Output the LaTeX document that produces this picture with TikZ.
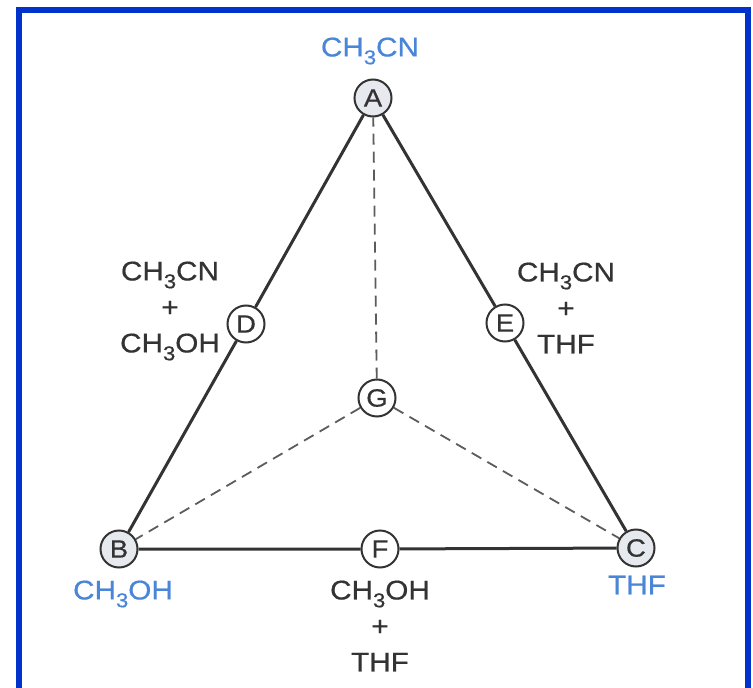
\documentclass[tikz,border=0pt]{standalone}
\usepackage{fontspec}
\usepackage{tikz}
\newfontfamily\labfont[FakeStretch=1.1,FakeBold=0.6]{Liberation Sans}
\newcommand{\low}[1]{\raisebox{-0.55ex}{\fontsize{20}{20}\selectfont #1}}
\definecolor{ink}{HTML}{333333}
\definecolor{tag}{HTML}{4A86D8}
\definecolor{frame}{HTML}{0033CC}
\definecolor{corner}{HTML}{E6E9EE}
\tikzset{edge/.style={draw=ink,line width=3pt},
  mix/.style={draw=ink!80,line width=1.8pt,dash pattern=on 11pt off 7pt},
  pt/.style={circle,draw=ink,line width=2pt,minimum size=37pt,inner sep=0pt,
    fill=white,font=\labfont\fontsize{25}{25}\selectfont,text=ink},
  pure/.style={pt,fill=corner},
  lab/.style={font=\labfont\fontsize{27}{36}\selectfont,text=ink,align=center},
  solvent/.style={font=\labfont\fontsize{27}{28}\selectfont,text=tag}}

\begin{document}
\begin{tikzpicture}[x=1pt,y=-1pt]
  \useasboundingbox (0,0) rectangle (753,688);
  \fill[white] (0,0) rectangle (753,688);
  \draw[frame,line width=6pt] (19,700)--(19,10)--(748,10)--(748,700);
  % corners and the mixtures between them
  \node[pure] (A) at (373,98) {A};
  \node[pure] (B) at (119,549) {B};
  \node[pure] (C) at (636,548) {C};
  \node[pt] (D) at (246,324) {D};
  \node[pt] (E) at (505,323) {E};
  \node[pt] (F) at (380,549) {F};
  \node[pt] (G) at (377,398) {G};
  \draw[edge] (A)--(D)--(B)--(F)--(C)--(E)--(A);
  \draw[mix] (G)--(A);
  \draw[mix] (G)--(B);
  \draw[mix] (G)--(C);
  \node[solvent] (nA) at (370,51) {CH\low{3}CN};
  \node[solvent] (nB) at (123,594) {CH\low{3}OH};
  \node[solvent] (nC) at (637,585) {THF};
  \node[lab] (tD) at (170,311) {CH\low{3}CN\\+\\CH\low{3}OH};
  \node[lab] (tE) at (566,308) {CH\low{3}CN\\+\\THF};
  \node[lab] (tF) at (380,626) {CH\low{3}OH\\+\\THF};
\end{tikzpicture}
\end{document}
